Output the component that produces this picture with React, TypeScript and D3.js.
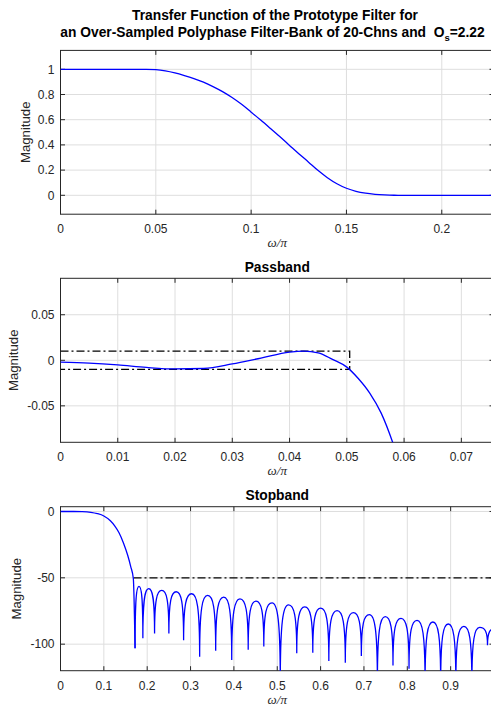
import React from 'react';
import * as d3 from 'd3';

const W = 491;
const H = 708;
const LEFT = 60.5;
const RIGHT = 494;
const AX = '#262626';
const GRID = '#dedede';
const BLUE = '#0000ff';
const FONT = "'Liberation Sans', Arial, Helvetica, sans-serif";
const DASHDOT = '8,3,2,3';
const TITLE_SIZE = 13.8;

// Linear magnitude response (overview)
const overviewFreq = [0, 0.02, 0.04, 0.045, 0.05, 0.055, 0.06, 0.065, 0.07, 0.075, 0.08, 0.085, 0.09, 0.095, 0.1, 0.105, 0.11, 0.115, 0.12, 0.125, 0.13, 0.135, 0.14, 0.145, 0.15, 0.155, 0.16, 0.165, 0.17, 0.175, 0.18, 0.2, 0.23];
const overviewMag = [1, 1, 1, 1, 0.997, 0.987, 0.971, 0.95, 0.926, 0.898, 0.863, 0.823, 0.776, 0.722, 0.66, 0.597, 0.532, 0.466, 0.398, 0.33, 0.265, 0.198, 0.14, 0.092, 0.056, 0.032, 0.017, 0.008, 0.003, 0.0005, 0, 0, 0];

// Passband ripple (dB)
const passFreq = [0, 0.005, 0.01, 0.015, 0.02, 0.025, 0.03, 0.035, 0.04, 0.0425, 0.045, 0.0475, 0.05, 0.052, 0.054, 0.056, 0.058, 0.06];
const passDb = [-0.002, -0.003, -0.005, -0.0078, -0.0095, -0.009, -0.004, 0.0025, 0.009, 0.0101, 0.0082, 0.001, -0.0075, -0.02, -0.036, -0.058, -0.09, -0.13];
const passEdge = 0.0505;
const passRipple = 0.01;

// Stopband: main-lobe roll-off (dB)
const rolloffFreq = [0, 0.03, 0.05, 0.07, 0.085, 0.1, 0.115, 0.125, 0.135, 0.145, 0.155, 0.162, 0.168, 0.172];
const rolloffDb = [0, 0, -0.1, -0.6, -1.6, -3.4, -7, -10.8, -16, -23.5, -33, -41.5, -50.5, -103];

// Stopband: side-lobe nulls and lobe peaks (dB)
const nullFreq = [0.172, 0.19, 0.217, 0.25, 0.284, 0.321, 0.358, 0.395, 0.433, 0.469, 0.507, 0.545, 0.582, 0.619, 0.657, 0.694, 0.731, 0.767, 0.804, 0.841, 0.877, 0.912, 0.949, 0.985, 1.022];
const nullDb = [-103, -95.5, -92, -92, -97, -109.5, -105, -112, -104.3, -101.8, -130, -106.8, -106.4, -112.7, -114, -108.9, -130, -116, -118.5, -130, -130, -130, -130, -100.8, -110];
const lobePeakDb = [-56.5, -58.2, -59.5, -60.5, -62, -63.3, -64.6, -65.8, -67.6, -68.9, -70.4, -71.9, -72.9, -74.7, -76.2, -77.7, -79.3, -80.5, -82, -83.3, -84.8, -86.6, -87.4, -88];
const stopEdge = 0.1684;
const stopAtten = -50;

// Axis ticks
const xTicks1 = [0, 0.05, 0.1, 0.15, 0.2];
const yTicks1 = [0, 0.2, 0.4, 0.6, 0.8, 1];
const xTicks2 = [0, 0.01, 0.02, 0.03, 0.04, 0.05, 0.06, 0.07];
const yTicks2 = [-0.05, 0, 0.05];
const xTicks3 = [0, 0.1, 0.2, 0.3, 0.4, 0.5, 0.6, 0.7, 0.8, 0.9];
const yTicks3 = [-100, -50, 0];

const TICK = 4.5;

type AxesProps = {
  id: string;
  top: number;
  bottom: number;
  x: d3.ScaleLinear<number, number>;
  y: d3.ScaleLinear<number, number>;
  xTicks: number[];
  yTicks: number[];
  yLabelX: number;
  title?: string;
  children?: React.ReactNode;
};

function Axes({ id, top, bottom, x, y, xTicks, yTicks, yLabelX, title, children }: AxesProps) {
  const cx = (LEFT + RIGHT) / 2;
  return (
    <g>
      <defs>
        <clipPath id={id}>
          <rect x={LEFT} y={top} width={RIGHT - LEFT} height={bottom - top} />
        </clipPath>
      </defs>
      {xTicks.map((t) => (
        <line key={'gx' + t} x1={x(t)} x2={x(t)} y1={top} y2={bottom} stroke={GRID} strokeWidth={1} />
      ))}
      {yTicks.map((t) => (
        <line key={'gy' + t} x1={LEFT} x2={RIGHT} y1={y(t)} y2={y(t)} stroke={GRID} strokeWidth={1} />
      ))}
      <rect x={LEFT} y={top} width={RIGHT - LEFT} height={bottom - top} fill="none" stroke={AX} strokeWidth={1} />
      {xTicks.map((t) => (
        <g key={'tx' + t}>
          <line x1={x(t)} x2={x(t)} y1={bottom} y2={bottom - TICK} stroke={AX} />
          <line x1={x(t)} x2={x(t)} y1={top} y2={top + TICK} stroke={AX} />
          <text x={x(t)} y={bottom + 19} textAnchor="middle" fontSize={12} fill={AX} fontFamily={FONT}>
            {String(t)}
          </text>
        </g>
      ))}
      {yTicks.map((t) => (
        <g key={'ty' + t}>
          <line x1={LEFT} x2={LEFT + TICK} y1={y(t)} y2={y(t)} stroke={AX} />
          <line x1={RIGHT} x2={RIGHT - TICK} y1={y(t)} y2={y(t)} stroke={AX} />
          <text x={LEFT - 6} y={y(t)} dy="0.35em" textAnchor="end" fontSize={12} fill={AX} fontFamily={FONT}>
            {String(t)}
          </text>
        </g>
      ))}
      <g clipPath={`url(#${id})`}>{children}</g>
      <text
        transform={`translate(${yLabelX},${(top + bottom) / 2}) rotate(-90)`}
        textAnchor="middle"
        fontSize={13.2}
        fill={AX}
        fontFamily={FONT}
      >
        Magnitude
      </text>
      <text
        x={cx}
        y={bottom + 33}
        textAnchor="middle"
        fontSize={13}
        fill={AX}
        fontFamily="'Liberation Serif', 'Times New Roman', serif"
        fontStyle="italic"
      >
        ω/π
      </text>
      {title && (
        <text x={cx} y={top - 6.5} textAnchor="middle" fontSize={TITLE_SIZE} fontWeight="bold" fill="#000" fontFamily={FONT}>
          {title}
        </text>
      )}
    </g>
  );
}

export default function App() {
  // Panel 1: overview
  const top1 = 50.4, bot1 = 214.2;
  const x1 = d3.scaleLinear().domain([0, 0.2274]).range([LEFT, RIGHT]);
  const y1 = d3.scaleLinear().domain([-0.15, 1.15]).range([bot1, top1]);
  const line1 = d3
    .line<number>()
    .x((_, i) => x1(overviewFreq[i]))
    .y((d) => y1(d))
    .curve(d3.curveMonotoneX)(overviewMag) as string;

  // Panel 2: passband
  const top2 = 278.3, bot2 = 442.3;
  const x2 = d3.scaleLinear().domain([0, 0.0757]).range([LEFT, RIGHT]);
  const y2 = d3.scaleLinear().domain([-0.09, 0.09]).range([bot2, top2]);
  const line2 = d3
    .line<number>()
    .x((_, i) => x2(passFreq[i]))
    .y((d) => y2(d))
    .curve(d3.curveMonotoneX)(passDb) as string;
  const specBox = d3
    .line<[number, number]>()
    .x((d) => x2(d[0]))
    .y((d) => y2(d[1]))([
      [0, passRipple],
      [passEdge, passRipple],
      [passEdge, -passRipple],
      [0, -passRipple],
    ]) as string;

  // Panel 3: stopband
  const top3 = 506.7, bot3 = 670.7;
  const x3 = d3.scaleLinear().domain([0, 1]).range([LEFT, RIGHT]);
  const y3 = d3.scaleLinear().domain([-120, 3.6]).range([bot3, top3]);
  const rolloff = d3
    .line<number>()
    .x((_, i) => x3(rolloffFreq[i]))
    .y((d) => y3(d))
    .curve(d3.curveMonotoneX)(rolloffDb) as string;

  // Each side lobe is an arch between two neighbouring nulls, topped at its peak level.
  const lobes = (() => {
    const p = d3.path();
    for (let i = 0; i < lobePeakDb.length; i++) {
      const xa = x3(nullFreq[i]);
      const xb = x3(nullFreq[i + 1]);
      const ya = y3(nullDb[i]);
      const yb = y3(nullDb[i + 1]);
      const yp = y3(lobePeakDb[i]);
      const xm = (xa + xb) / 2;
      if (i === 0) p.moveTo(xa, ya);
      p.bezierCurveTo(xa, yp + 0.2 * (ya - yp), xa + 0.35 * (xm - xa), yp, xm, yp);
      p.bezierCurveTo(xb - 0.35 * (xb - xm), yp, xb, yp + 0.2 * (yb - yp), xb, yb);
    }
    return p.toString();
  })();

  return (
    <svg
      width={W}
      height={H}
      viewBox={`0 0 ${W} ${H}`}
      style={{ position: 'absolute', left: 0, top: 0, background: '#fff' }}
      fontFamily={FONT}
    >
      <rect x={0} y={0} width={W} height={H} fill="#fff" />
      <text x={275} y={20} textAnchor="middle" fontSize={TITLE_SIZE} fontWeight="bold" fill="#000">
        Transfer Function of the Prototype Filter for
      </text>
      <text x={272.5} y={37} textAnchor="middle" fontSize={TITLE_SIZE} fontWeight="bold" fill="#000">
        {'an Over-Sampled Polyphase Filter-Bank of 20-Chns and\u00a0\u00a0O'}
        <tspan dy={3.5} fontSize={9.5}>s</tspan>
        <tspan dy={-3.5}>=2.22</tspan>
      </text>

      <Axes id="clip-overview" top={top1} bottom={bot1} x={x1} y={y1} xTicks={xTicks1} yTicks={yTicks1} yLabelX={29.5}>
        <path d={line1} fill="none" stroke={BLUE} strokeWidth={1.3} />
      </Axes>

      <Axes id="clip-pass" top={top2} bottom={bot2} x={x2} y={y2} xTicks={xTicks2} yTicks={yTicks2} yLabelX={18} title="Passband">
        <path d={specBox} fill="none" stroke="#000" strokeWidth={1.3} strokeDasharray={DASHDOT} />
        <path d={line2} fill="none" stroke={BLUE} strokeWidth={1.3} />
      </Axes>

      <Axes id="clip-stop" top={top3} bottom={bot3} x={x3} y={y3} xTicks={xTicks3} yTicks={yTicks3} yLabelX={21} title="Stopband">
        <line
          x1={x3(stopEdge)}
          x2={x3(1)}
          y1={y3(stopAtten)}
          y2={y3(stopAtten)}
          stroke="#000"
          strokeWidth={1.3}
          strokeDasharray={DASHDOT}
        />
        <path d={rolloff} fill="none" stroke={BLUE} strokeWidth={1.3} />
        <path d={lobes} fill="none" stroke={BLUE} strokeWidth={1.3} />
      </Axes>
    </svg>
  );
}
